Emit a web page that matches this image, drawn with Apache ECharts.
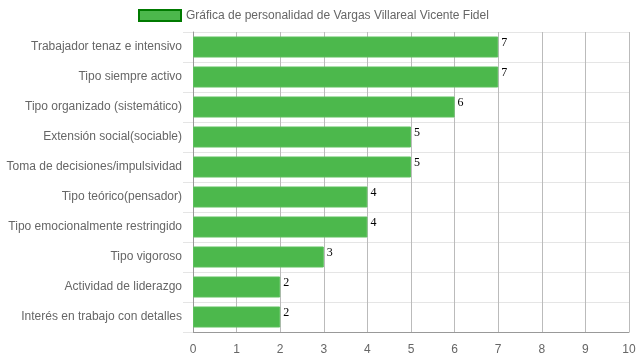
<!DOCTYPE html>
<html><head><meta charset="utf-8">
<script src="https://cdn.jsdelivr.net/npm/echarts@6/dist/echarts.min.js"></script>
<style>html,body{margin:0;padding:0;background:#fff}#c{width:639px;height:360px}</style>
</head><body><div id="c"></div>
<script>
const categories = ["Trabajador tenaz e intensivo","Tipo siempre activo","Tipo organizado (sistemático)","Extensión social(sociable)","Toma de decisiones/impulsividad","Tipo teórico(pensador)","Tipo emocionalmente restringido","Tipo vigoroso","Actividad de liderazgo","Interés en trabajo con detalles"];
const values = [7,7,6,5,5,4,4,3,2,2];
const seriesName = "Gráfica de personalidad de Vargas Villareal Vicente Fidel";
const xTicks = [0,1,2,3,4,5,6,7,8,9,10];

const chart = echarts.init(document.getElementById('c'), null, {renderer:'canvas'});
chart.setOption({
  animation:false,
  textStyle:{fontFamily:'Arial, Liberation Sans, sans-serif'},
  legend:{
    top:9, left:138, padding:0, icon:'rect', itemWidth:42, itemHeight:11, itemGap:6,
    textStyle:{color:'#666', fontSize:12, fontFamily:'Arial, Liberation Sans, sans-serif'},
    data:[{name:seriesName, itemStyle:{color:'#4cb84c', borderColor:'#007a00', borderWidth:2}}]
  },
  grid:{left:193, right:10, top:32, bottom:28, containLabel:false},
  xAxis:{
    type:'value', min:0, max:10, interval:1,
    axisLine:{show:true, lineStyle:{color:'#999'}},
    axisTick:{show:false},
    axisLabel:{color:'#666', fontSize:12, margin:12, formatter:v=>xTicks.includes(v)?String(v):''},
    splitLine:{show:true, lineStyle:{color:'#bbb'}}
  },
  yAxis:{
    type:'category', data:categories, inverse:true,
    axisLine:{show:true, lineStyle:{color:'#999'}},
    axisTick:{show:true, length:10, lineStyle:{color:'#e5e5e5'}},
    axisLabel:{color:'#666', fontSize:12, margin:11},
    splitLine:{show:true, lineStyle:{color:'#e5e5e5'}}
  },
  series:[{
    name:seriesName, type:'bar', data:values, barWidth:21,
    itemStyle:{color:'#4cb84c', borderColor:'#5cc05c', borderWidth:1},
    label:{show:true, position:'right', distance:3, offset:[0,-4], color:'#000', fontSize:12, fontFamily:'Times New Roman, Liberation Serif, serif'}
  }]
});
</script></body></html>
